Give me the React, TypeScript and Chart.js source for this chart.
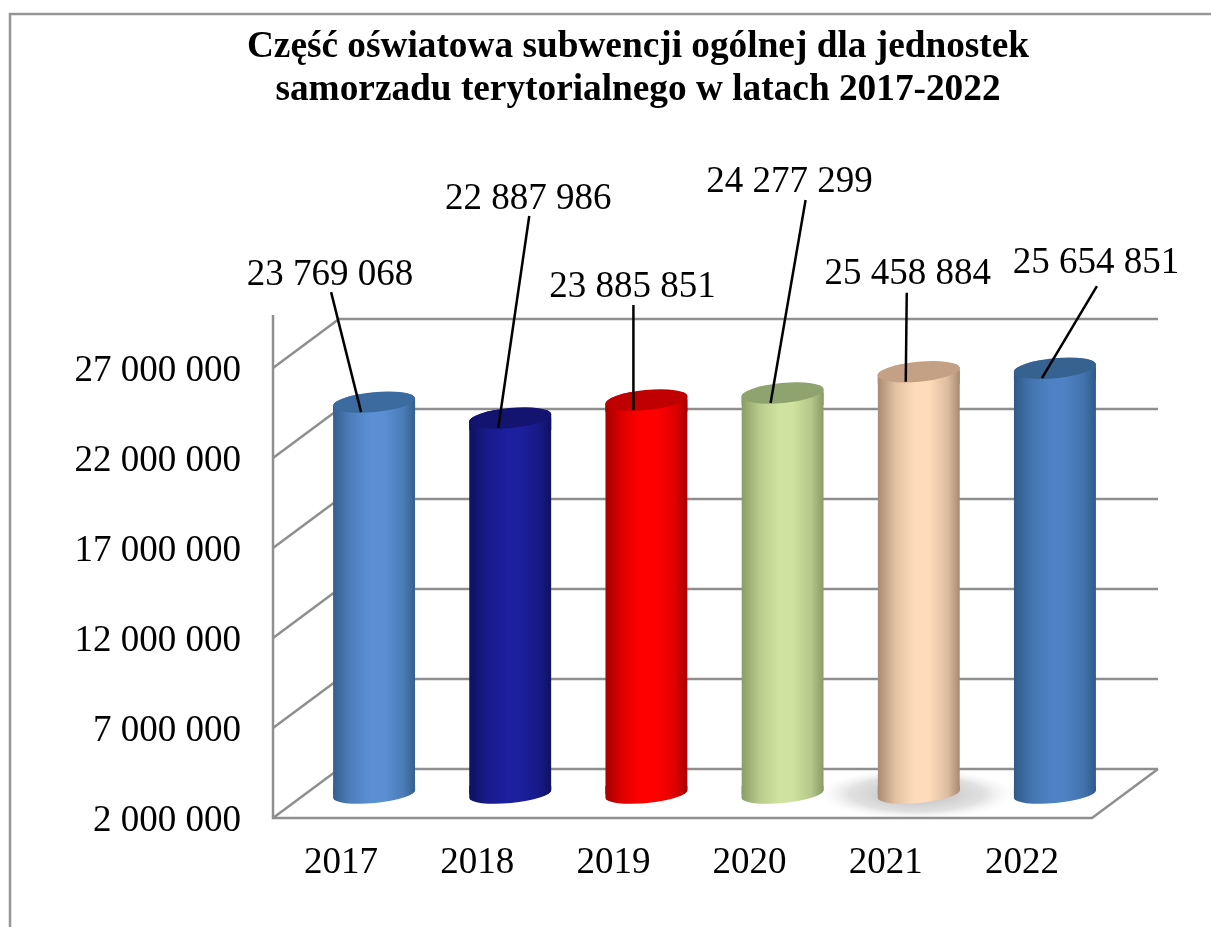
import React, { useEffect, useRef } from "react";
import { Chart, registerables } from "chart.js";

Chart.register(...registerables);

const categories = ["2017", "2018", "2019", "2020", "2021", "2022"];
const values = [23769068, 22887986, 23885851, 24277299, 25458884, 25654851];
const yTicks = [2000000, 7000000, 12000000, 17000000, 22000000, 27000000];
const titleLines = [
  "Część oświatowa subwencji ogólnej dla jednostek",
  "samorzadu terytorialnego w latach 2017-2022",
];

const barEdge = ["#34608f", "#0f1160", "#a80000", "#8a9c66", "#a98a72", "#2f5a8a"];
const barMid = ["#5a8fd3", "#1c1f9e", "#ff0000", "#cfe29f", "#fedcba", "#4f82c4"];
const barCap = ["#3b6b9f", "#12146f", "#c00000", "#8fa36e", "#c4a084", "#35628f"];

// Depth of the 3D box, and the half-way offset at which the cylinders stand.
const DEPTH_X = 66;
const DEPTH_Y = -49;
const RIGHT_EXTRA = 2;
const BAR_DX = 33;
const BAR_DY = -24;
const BAR_W = 82;
const CAP_RY = 10;
const BASE_RY = 9;
const CAP_TILT = (-5.5 * Math.PI) / 180;
const GRID = "#8f8f8f";
const FONT_FAMILY = '"Liberation Serif", serif';

// Offsets from each cylinder's cap centre: label centre, leader start, leader end.
const labelDx = [-44, 18, -14, 7, -11, 41];
const labelDy = [-127, -219, -113, -211, -97, -105];
const leadStartDx = [-43, 19, -13, 23, -12, 42];
const leadStartDy = [-110, -202, -95, -193, -79, -82];
const leadEndDx = [-13, -12, -13, -12, -13, -13];
const leadEndDy = [10, 10, 10, 10, 10, 10];

const fmt = (v: number) => String(v).replace(/\B(?=(\d{3})+(?!\d))/g, " ");

function mix(a: string, b: string, t: number) {
  const pa = parseInt(a.slice(1), 16);
  const pb = parseInt(b.slice(1), 16);
  const ch = (s: number) => {
    const ca = (pa >> s) & 255;
    const cb = (pb >> s) & 255;
    return Math.round(ca + (cb - ca) * t);
  };
  return `rgb(${ch(16)},${ch(8)},${ch(0)})`;
}

function barGradient(ctx: CanvasRenderingContext2D, x: number, i: number) {
  const g = ctx.createLinearGradient(x - BAR_W / 2, 0, x + BAR_W / 2, 0);
  g.addColorStop(0, barEdge[i]);
  g.addColorStop(0.22, mix(barEdge[i], barMid[i], 0.68));
  g.addColorStop(0.45, barMid[i]);
  g.addColorStop(0.62, barMid[i]);
  g.addColorStop(0.85, mix(barEdge[i], barMid[i], 0.62));
  g.addColorStop(1, barEdge[i]);
  return g;
}

function silhouette(ctx: CanvasRenderingContext2D, e: any) {
  const cx = e.x + BAR_DX;
  const rx = BAR_W / 2 / Math.cos(CAP_TILT);
  ctx.moveTo(cx - BAR_W / 2, e.y + BAR_DY);
  ctx.ellipse(cx, e.y + BAR_DY, rx, CAP_RY, CAP_TILT, Math.PI, 2 * Math.PI);
  ctx.ellipse(cx, e.base + BAR_DY, rx, BASE_RY, CAP_TILT, 0, Math.PI);
  ctx.closePath();
}

const boxPlugin = {
  id: "box3d",
  afterLayout(chart: any) {
    // The value-axis labels are wider than the box the plot leaves them.
    chart.scales.y.left = 20;
  },
  beforeDraw(chart: any) {
    const { ctx, width, height } = chart;
    ctx.save();
    ctx.fillStyle = "#ffffff";
    ctx.fillRect(0, 0, width, height);
    ctx.strokeStyle = "#969696";
    ctx.lineWidth = 2.5;
    ctx.beginPath();
    ctx.moveTo(10, height);
    ctx.lineTo(10, 14);
    ctx.lineTo(width, 14);
    ctx.stroke();
    ctx.restore();
  },
  beforeDatasetsDraw(chart: any) {
    const { ctx, chartArea: a, scales } = chart;
    const y = scales.y;
    ctx.save();
    // floor shadow beneath the fifth cylinder
    const sx = scales.x.getPixelForValue(4) + 31;
    const sy = y.getPixelForValue(yTicks[0]) - 24;
    ctx.save();
    ctx.translate(sx, sy);
    ctx.scale(1, 0.26);
    const sh = ctx.createRadialGradient(0, 0, 30, 0, 0, 98);
    sh.addColorStop(0, "rgba(185,185,185,0.75)");
    sh.addColorStop(0.55, "rgba(205,205,205,0.6)");
    sh.addColorStop(1, "rgba(240,240,240,0)");
    ctx.fillStyle = sh;
    ctx.beginPath();
    ctx.arc(0, 0, 98, 0, Math.PI * 2);
    ctx.fill();
    ctx.restore();

    ctx.strokeStyle = GRID;
    ctx.lineWidth = 2.5;
    ctx.lineCap = "butt";
    for (const v of yTicks) {
      const py = y.getPixelForValue(v);
      ctx.beginPath();
      ctx.moveTo(a.left, py);
      ctx.lineTo(a.left + DEPTH_X, py + DEPTH_Y);
      ctx.lineTo(a.right + DEPTH_X + RIGHT_EXTRA, py + DEPTH_Y);
      ctx.stroke();
    }
    ctx.beginPath();
    ctx.moveTo(a.left, a.top - 53);
    ctx.lineTo(a.left, a.bottom);
    ctx.lineTo(a.right + RIGHT_EXTRA, a.bottom);
    ctx.lineTo(a.right + DEPTH_X + RIGHT_EXTRA, a.bottom + DEPTH_Y);
    ctx.stroke();
    ctx.restore();
  },
  beforeDatasetDraw(chart: any, args: any) {
    const { ctx } = chart;
    const els = chart.getDatasetMeta(args.index).data;
    ctx.save();
    ctx.beginPath();
    for (const e of els) silhouette(ctx, e);
    ctx.clip();
    ctx.translate(BAR_DX, BAR_DY);
  },
  afterDatasetDraw(chart: any, args: any) {
    const { ctx } = chart;
    ctx.restore();
    const els = chart.getDatasetMeta(args.index).data;
    const rx = BAR_W / 2 / Math.cos(CAP_TILT);
    els.forEach((e: any, i: number) => {
      const cx = e.x + BAR_DX;
      const topY = e.y + BAR_DY;
      const baseY = e.base + BAR_DY;
      // round off both ends of the Chart.js bar so that it reads as a cylinder
      ctx.save();
      ctx.beginPath();
      silhouette(ctx, e);
      ctx.clip();
      ctx.fillStyle = barGradient(ctx, cx, i);
      ctx.fillRect(cx - BAR_W / 2 - 1, baseY - 8, BAR_W + 2, 20);
      ctx.fillRect(cx - BAR_W / 2 - 1, topY - 8, BAR_W + 2, 20);
      ctx.restore();
      ctx.beginPath();
      ctx.ellipse(cx, topY, rx, CAP_RY, CAP_TILT, 0, 2 * Math.PI);
      ctx.fillStyle = barCap[i];
      ctx.fill();
    });
  },
  afterDatasetsDraw(chart: any) {
    const { ctx } = chart;
    const els = chart.getDatasetMeta(0).data;
    ctx.save();
    ctx.strokeStyle = "#000000";
    ctx.fillStyle = "#000000";
    ctx.lineWidth = 2.5;
    ctx.font = `37px ${FONT_FAMILY}`;
    ctx.textAlign = "center";
    ctx.textBaseline = "middle";
    els.forEach((e: any, i: number) => {
      const cx = e.x + BAR_DX;
      const cy = e.y + BAR_DY;
      ctx.beginPath();
      ctx.moveTo(cx + leadStartDx[i], cy + leadStartDy[i]);
      ctx.lineTo(cx + leadEndDx[i], cy + leadEndDy[i]);
      ctx.stroke();
      ctx.fillText(fmt(values[i]), cx + labelDx[i], cy + labelDy[i]);
    });
    ctx.restore();
  },
};

export default function App() {
  const ref = useRef<HTMLCanvasElement | null>(null);
  useEffect(() => {
    const chart = new Chart(ref.current as HTMLCanvasElement, {
      type: "bar",
      data: {
        labels: categories,
        datasets: [
          {
            data: values,
            base: yTicks[0],
            barThickness: BAR_W,
            borderWidth: 0,
            clip: false,
            backgroundColor: (c: any) => {
              const ch = c.chart;
              const i = c.dataIndex ?? 0;
              const x = ch.scales.x ? ch.scales.x.getPixelForValue(i) : NaN;
              return Number.isFinite(x) ? barGradient(ch.ctx, x, i) : barMid[i];
            },
          } as any,
        ],
      },
      options: {
        animation: false,
        responsive: false,
        layout: { padding: { left: 186, right: 121, top: 0, bottom: 0 } },
        plugins: {
          legend: { display: false },
          tooltip: { enabled: false },
          title: {
            display: true,
            text: titleLines,
            color: "#000000",
            font: { family: FONT_FAMILY, size: 37.3, weight: "bold", lineHeight: 1.15 },
            padding: { top: 26, bottom: 256.2 },
          },
        },
        scales: {
          x: {
            grid: { display: false },
            border: { display: false },
            ticks: {
              color: "#000000",
              padding: 15,
              maxRotation: 0,
              font: { family: FONT_FAMILY, size: 37 },
            },
            afterFit: (s: any) => {
              s.height = 109;
            },
          },
          y: {
            min: 2000000,
            max: 27000000,
            grid: { display: false, drawTicks: false },
            border: { display: false },
            afterBuildTicks: (s: any) => {
              s.ticks = yTicks.map((value) => ({ value }));
            },
            ticks: {
              color: "#000000",
              padding: 32,
              labelOffset: 3,
              autoSkip: false,
              font: { family: FONT_FAMILY, size: 37 },
              callback: (v: any) => fmt(Number(v)),
            },
            afterFit: (s: any) => {
              s.width = 87;
            },
          },
        },
      } as any,
      plugins: [boxPlugin as any],
    });
    return () => chart.destroy();
  }, []);
  return (
    <div style={{ position: "fixed", left: 0, top: 0, width: 1211, height: 927 }}>
      <canvas ref={ref} width={1211} height={927} style={{ display: "block" }} />
    </div>
  );
}
